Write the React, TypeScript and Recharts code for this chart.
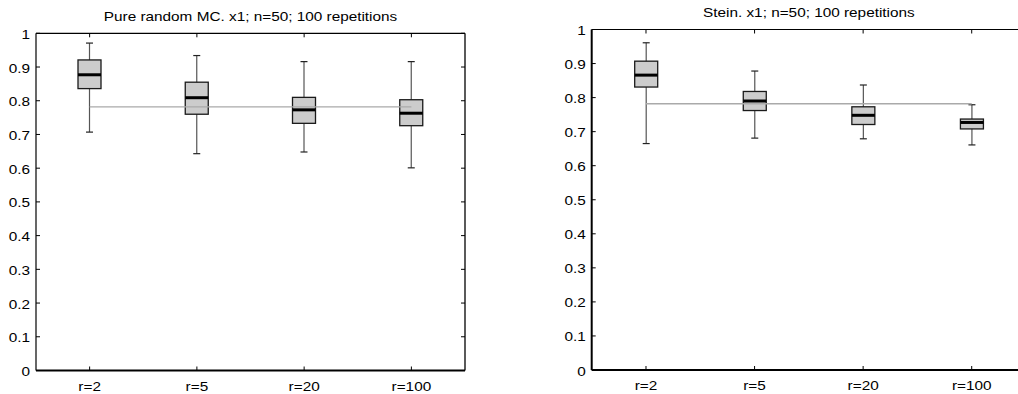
import React from "react";
import { ComposedChart, Bar, Line, XAxis, YAxis } from "recharts";

// categories (number of repetitions r)
const categories = ["r=2", "r=5", "r=20", "r=100"];

// left panel: pure random MC
const pureLow = [0.707, 0.643, 0.648, 0.601];
const pureQ1 = [0.836, 0.76, 0.733, 0.726];
const pureMedian = [0.877, 0.809, 0.773, 0.763];
const pureQ3 = [0.921, 0.855, 0.81, 0.803];
const pureHigh = [0.971, 0.934, 0.916, 0.916];

// right panel: Stein
const steinLow = [0.665, 0.681, 0.679, 0.661];
const steinQ1 = [0.831, 0.762, 0.721, 0.708];
const steinMedian = [0.866, 0.79, 0.748, 0.727];
const steinQ3 = [0.907, 0.818, 0.773, 0.737];
const steinHigh = [0.961, 0.878, 0.837, 0.779];

// reference (true) value drawn as a flat line
const trueValue = 0.782;

const yTicks = [0, 0.1, 0.2, 0.3, 0.4, 0.5, 0.6, 0.7, 0.8, 0.9, 1];

const FONT = "'Liberation Sans', Arial, Helvetica, sans-serif";
const STRETCH = "scale(1.18,1)";

function buildRows(
  low: number[],
  q1: number[],
  median: number[],
  q3: number[],
  high: number[]
) {
  return categories.map((name, i) => ({
    name,
    low: low[i],
    q1: q1[i],
    median: median[i],
    q3: q3[i],
    high: high[i],
    whisker: [low[i], high[i]],
    ref: trueValue,
  }));
}

const pureRows = buildRows(pureLow, pureQ1, pureMedian, pureQ3, pureHigh);
const steinRows = buildRows(steinLow, steinQ1, steinMedian, steinQ3, steinHigh);

function BoxShape(props: any) {
  const { x, y, width, height, payload } = props;
  const { low, q1, median, q3, high } = payload;
  const py = (v: number) => y + (height * (high - v)) / (high - low);
  const cx = x + width / 2;
  return (
    <g>
      <line x1={cx} x2={cx} y1={y} y2={y + height} stroke="#555" strokeWidth={1.2} />
      <line x1={cx - 3.5} x2={cx + 3.5} y1={y} y2={y} stroke="#222" strokeWidth={1.2} />
      <line x1={cx - 3.5} x2={cx + 3.5} y1={y + height} y2={y + height} stroke="#222" strokeWidth={1.2} />
      <rect
        x={x}
        y={py(q3)}
        width={width}
        height={py(q1) - py(q3)}
        fill="#cccccc"
        stroke="#1a1a1a"
        strokeWidth={1.3}
      />
      <line x1={x} x2={x + width} y1={py(median)} y2={py(median)} stroke="#000" strokeWidth={3} />
    </g>
  );
}

function BottomTick({ x, y, payload }: any) {
  return (
    <g>
      <line x1={x} x2={x} y1={y} y2={y - 4} stroke="#000" />
      <text
        transform={`translate(${x},${y + 20}) ${STRETCH}`}
        textAnchor="middle"
        fontSize={13}
        fontFamily={FONT}
        fill="#000"
      >
        {payload.value}
      </text>
    </g>
  );
}

function TopTick({ x, y }: any) {
  return <line x1={x} x2={x} y1={y} y2={y + 4} stroke="#000" />;
}

function LeftTick({ x, y, payload }: any) {
  const label = String(Number(payload.value.toFixed(1)));
  return (
    <g>
      <line x1={x} x2={x + 4} y1={y} y2={y} stroke="#000" />
      <text
        transform={`translate(${x - 6},${y + 5.5}) ${STRETCH}`}
        textAnchor="end"
        fontSize={13}
        fontFamily={FONT}
        fill="#000"
      >
        {label}
      </text>
    </g>
  );
}

function RightTick({ x, y }: any) {
  return <line x1={x} x2={x - 4} y1={y} y2={y} stroke="#000" />;
}

interface PanelProps {
  rows: any[];
  title: string;
  width: number;
  height: number;
  top: number;
  bottomHeight: number;
  leftWidth: number;
  leftAxisWidth: number;
}

function BoxPanel({ rows, title, width, height, top, bottomHeight, leftWidth, leftAxisWidth }: PanelProps) {
  const titleLabel = (p: any) => {
    const vb = p.viewBox || {};
    return (
      <text
        transform={`translate(${vb.x + vb.width / 2},${vb.y - 11.5}) ${STRETCH}`}
        textAnchor="middle"
        fontSize={13}
        fontFamily={FONT}
        fill="#000"
      >
        {title}
      </text>
    );
  };

  return (
    <ComposedChart
      width={width}
      height={height}
      data={rows}
      margin={{ top, right: 0, bottom: 0, left: 0 }}
      barCategoryGap={0}
    >
      <XAxis
        dataKey="name"
        type="category"
        height={bottomHeight}
        interval={0}
        tickLine={false}
        tickSize={0}
        tickMargin={0}
        axisLine={{ stroke: "#000", strokeWidth: 2 }}
        tick={<BottomTick />}
      />
      <XAxis
        xAxisId="top"
        dataKey="name"
        type="category"
        orientation="top"
        height={1}
        interval={0}
        tickLine={false}
        tickSize={0}
        tickMargin={0}
        axisLine={{ stroke: "#000", strokeWidth: 1.2 }}
        tick={<TopTick />}
        label={{ content: titleLabel }}
      />
      <YAxis
        type="number"
        domain={[0, 1]}
        ticks={yTicks}
        interval={0}
        width={leftAxisWidth}
        tickLine={false}
        tickSize={0}
        tickMargin={0}
        axisLine={{ stroke: "#000", strokeWidth: leftWidth }}
        tick={<LeftTick />}
      />
      <YAxis
        yAxisId="right"
        orientation="right"
        type="number"
        domain={[0, 1]}
        allowDataOverflow
        ticks={yTicks}
        interval={0}
        width={15}
        tickLine={false}
        tickSize={0}
        tickMargin={0}
        axisLine={{ stroke: "#000", strokeWidth: 1.3 }}
        tick={<RightTick />}
      />
      <Bar dataKey="whisker" barSize={23} shape={<BoxShape />} isAnimationActive={false} />
      <Line
        type="linear"
        dataKey="ref"
        stroke="#aaaaaa"
        strokeWidth={1.3}
        dot={false}
        activeDot={false}
        isAnimationActive={false}
      />
    </ComposedChart>
  );
}

export default function App() {
  return (
    <div
      style={{
        position: "absolute",
        left: 0,
        top: 0,
        width: 1018,
        height: 394,
        overflow: "hidden",
        background: "#fff",
      }}
    >
      <div style={{ position: "absolute", left: 0, top: 0 }}>
        <BoxPanel
          rows={pureRows}
          title="Pure random MC. x1; n=50; 100 repetitions"
          width={480}
          height={394}
          top={32.3}
          bottomHeight={23.5}
          leftWidth={1.2}
          leftAxisWidth={36}
        />
      </div>
      <div style={{ position: "absolute", left: 556, top: 0 }}>
        <BoxPanel
          rows={steinRows}
          title="Stein. x1; n=50; 100 repetitions"
          width={485}
          height={394}
          top={28.5}
          bottomHeight={24}
          leftWidth={2}
          leftAxisWidth={35.7}
        />
      </div>
    </div>
  );
}
